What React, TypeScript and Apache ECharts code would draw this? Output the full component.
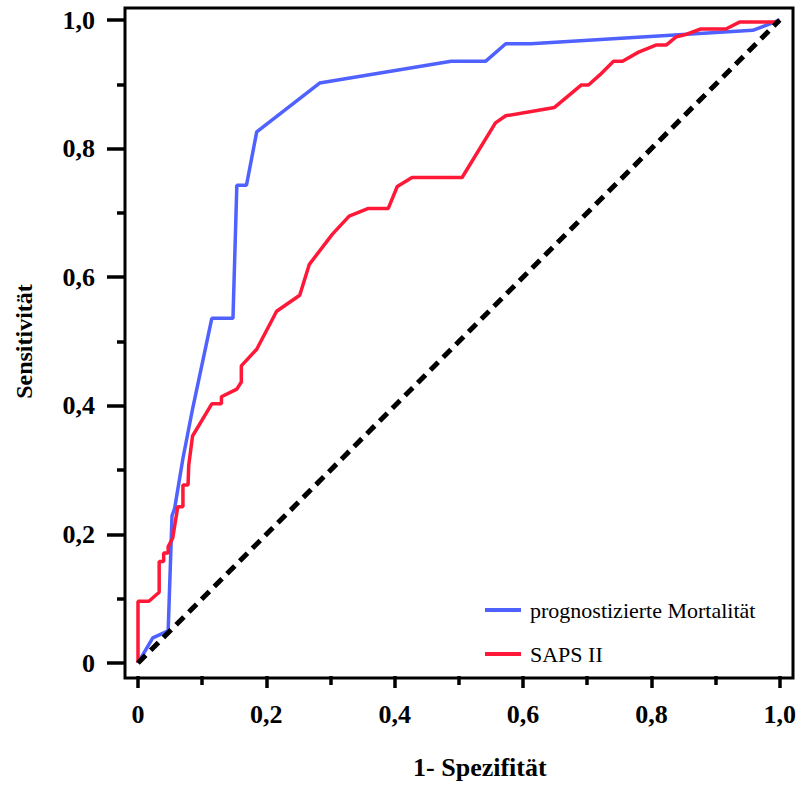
import React, { useEffect, useRef } from "react";
import * as echarts from "echarts";

const seriesNames = ["prognostizierte Mortalität", "SAPS II"];
const xTitle = "1- Spezifität";
const yTitle = "Sensitivität";

const mortalityRoc: [number, number][] = [
  [0, 0], [0.023, 0.039], [0.047, 0.05], [0.053, 0.229], [0.057, 0.24],
  [0.07, 0.318], [0.085, 0.395], [0.115, 0.536], [0.148, 0.536],
  [0.154, 0.743], [0.169, 0.743], [0.185, 0.826], [0.283, 0.902],
  [0.488, 0.936], [0.542, 0.936], [0.573, 0.963], [0.612, 0.963],
  [0.958, 0.984], [1, 1],
];

const sapsRoc: [number, number][] = [
  [0, 0], [0, 0.096], [0.017, 0.096], [0.033, 0.11], [0.033, 0.158],
  [0.04, 0.158], [0.04, 0.171], [0.047, 0.171], [0.047, 0.181],
  [0.054, 0.194], [0.062, 0.243], [0.07, 0.243], [0.07, 0.277],
  [0.078, 0.277], [0.079, 0.307], [0.085, 0.353], [0.115, 0.403],
  [0.13, 0.403], [0.13, 0.414], [0.154, 0.426], [0.161, 0.437],
  [0.161, 0.462], [0.185, 0.488], [0.216, 0.547], [0.252, 0.572],
  [0.267, 0.62], [0.303, 0.667], [0.329, 0.695], [0.359, 0.707],
  [0.39, 0.707], [0.404, 0.741], [0.427, 0.755], [0.505, 0.755],
  [0.557, 0.84], [0.573, 0.851], [0.649, 0.864], [0.691, 0.899],
  [0.702, 0.899], [0.72, 0.915], [0.741, 0.936], [0.755, 0.936],
  [0.78, 0.95], [0.807, 0.961], [0.823, 0.961], [0.839, 0.974],
  [0.852, 0.977], [0.877, 0.986], [0.916, 0.986], [0.938, 0.997],
  [1, 0.997],
];

const referenceLine: [number, number][] = [[0, 0], [1, 1]];

const BLUE = "#4F61FF";
const RED = "#FF1838";
const FONT = "'Liberation Serif', 'Times New Roman', serif";

const fmt = (v: number) => (v === 0 ? "0" : v.toFixed(1).replace(".", ","));

export default function App() {
  const ref = useRef<HTMLDivElement>(null);
  useEffect(() => {
    if (!ref.current) return;
    const chart = echarts.init(ref.current, null, { renderer: "svg" });
    const axisCommon = {
      type: "value" as const,
      min: 0,
      max: 1,
      interval: 0.2,
      offset: 13,
      axisLine: { show: false, onZero: false },
      splitLine: { show: false },
      minorSplitLine: { show: false },
      nameLocation: "middle" as const,
    };
    chart.setOption({
      animation: false,
      backgroundColor: "#ffffff",
      grid: { left: 138, top: 20, width: 644, height: 645 },
      xAxis: {
        ...axisCommon,
        name: xTitle,
        nameGap: 78,
        nameTextStyle: {
          fontFamily: FONT, fontWeight: "bold", fontSize: 26, color: "#000",
          padding: [0, 0, 0, 42],
        },
        axisTick: { show: true, length: 12, lineStyle: { color: "#000", width: 3.5 } },
        minorTick: { show: true, splitNumber: 2, length: 9, lineStyle: { color: "#000", width: 3.5 } },
        axisLabel: {
          formatter: fmt, margin: 25, fontFamily: FONT, fontWeight: "bold",
          fontSize: 26, color: "#000",
        },
      },
      yAxis: {
        ...axisCommon,
        name: yTitle,
        nameGap: 89,
        nameTextStyle: { fontFamily: FONT, fontWeight: "bold", fontSize: 24, color: "#000" },
        axisTick: { show: true, length: 18, lineStyle: { color: "#000", width: 3.5 } },
        minorTick: { show: true, splitNumber: 2, length: 8, lineStyle: { color: "#000", width: 3.5 } },
        axisLabel: {
          formatter: fmt, margin: 30, fontFamily: FONT, fontWeight: "bold",
          fontSize: 26, color: "#000",
        },
      },
      legend: {
        data: seriesNames,
        orient: "vertical",
        left: 480,
        top: 594,
        icon: "rect",
        itemWidth: 36,
        itemHeight: 4,
        itemGap: 22,
        textStyle: {
          fontFamily: FONT, fontSize: 22, color: "#000", padding: [0, 0, 0, 4],
        },
      },
      graphic: [
        {
          type: "rect",
          shape: { x: 125, y: 8, width: 668, height: 670 },
          style: { fill: "none", stroke: "#000", lineWidth: 3 },
          silent: true,
        },
      ],
      series: [
        {
          name: seriesNames[0],
          type: "line",
          data: mortalityRoc,
          showSymbol: false,
          clip: false,
          color: BLUE,
          lineStyle: { color: BLUE, width: 3.5 },
          z: 2,
        },
        {
          name: seriesNames[1],
          type: "line",
          data: sapsRoc,
          showSymbol: false,
          clip: false,
          color: RED,
          lineStyle: { color: RED, width: 3.5 },
          z: 3,
        },
        {
          name: "Referenz",
          type: "line",
          data: referenceLine,
          showSymbol: false,
          clip: false,
          color: "#000",
          lineStyle: { color: "#000", width: 5, type: [11, 7] },
          z: 4,
        },
      ],
    });
    return () => chart.dispose();
  }, []);
  return (
    <div
      ref={ref}
      style={{ position: "fixed", left: 0, top: 0, width: 799, height: 785 }}
    />
  );
}
